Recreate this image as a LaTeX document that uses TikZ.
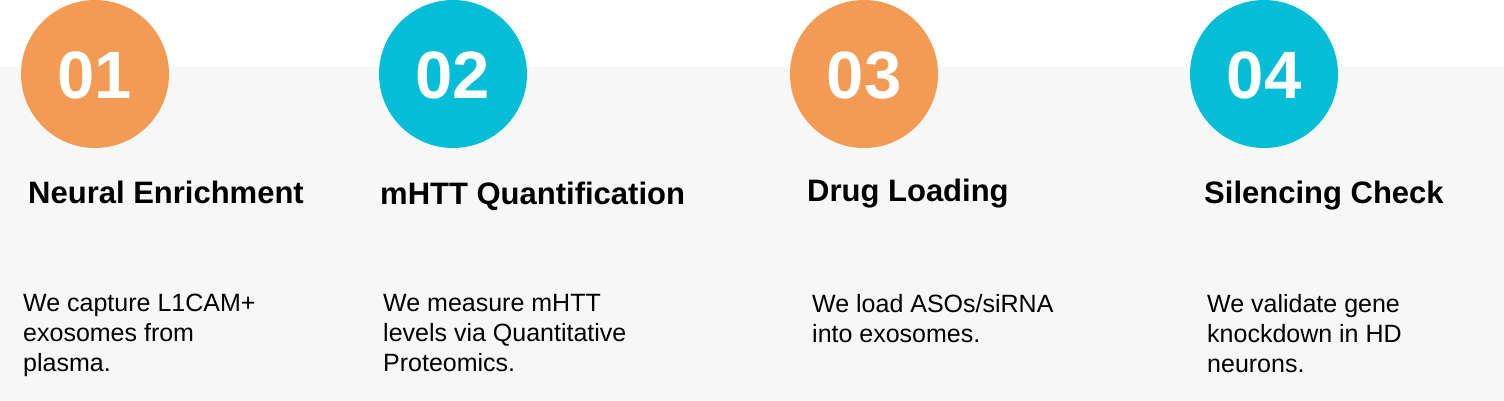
\documentclass[tikz,border=0pt]{standalone}
\usepackage{fontspec}
\setmainfont{Liberation Sans}
\definecolor{orng}{HTML}{F39A55}
\definecolor{cyn}{HTML}{03BED6}
\definecolor{band}{HTML}{F7F7F7}
\begin{document}
\begin{tikzpicture}[x=1pt,y=-1pt,
  circ/.style={circle,minimum size=148pt,inner sep=0pt},
  num/.style={anchor=base,text=white,font=\fontsize{67}{67}\selectfont\bfseries,inner sep=0pt},
  ttl/.style={anchor=base west,font=\fontsize{31}{32}\selectfont\bfseries,inner sep=0pt},
  body/.style={anchor=north west,align=left,font=\fontsize{25}{30}\selectfont,inner sep=0pt}]
\useasboundingbox (0,0) rectangle (1504,401);
\fill[white] (0,0) rectangle (1504,401);
\fill[band] (0,67) rectangle (1504,401);
% circles
\node[circ,fill=orng] (c1) at (95,74) {};
\node[circ,fill=cyn]  (c2) at (453,74) {};
\node[circ,fill=orng] (c3) at (864,74) {};
\node[circ,fill=cyn]  (c4) at (1264,74) {};
\node[num] (n1) at (95,99) {01};
\node[num] (n2) at (453,99) {02};
\node[num] (n3) at (864,99) {03};
\node[num] (n4) at (1264,99) {04};
% titles
\node[ttl] (t1) at (28,203) {Neural Enrichment};
\node[ttl] (t2) at (380,204) {mHTT Quantification};
\node[ttl] (t3) at (807,201) {Drug Loading};
\node[ttl] (t4) at (1204,203) {Silencing Check};
% bodies
\node[body] (b1) at (23,294) {We capture L1CAM+\\exosomes from\\plasma.};
\node[body] (b2) at (383,294) {We measure mHTT\\levels via Quantitative\\Proteomics.};
\node[body] (b3) at (812,294) {We load ASOs/siRNA\\into exosomes.};
\node[body] (b4) at (1207,294) {We validate gene\\knockdown in HD\\neurons.};
\end{tikzpicture}
\end{document}
